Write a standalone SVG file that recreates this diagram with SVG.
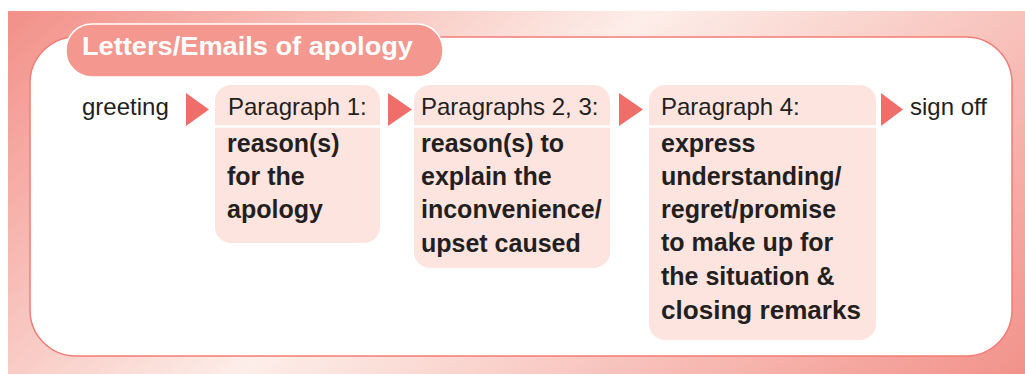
<svg xmlns="http://www.w3.org/2000/svg" width="1025" height="374" viewBox="0 0 1025 374">
<defs>
<linearGradient id="bg" gradientUnits="userSpaceOnUse" x1="163" y1="-126" x2="790" y2="582">
<stop offset="0" stop-color="#f29088"/>
<stop offset="0.45" stop-color="#fdeee9"/>
<stop offset="1" stop-color="#f2928a"/>
</linearGradient>
<style>
.reg{font-family:"Liberation Sans",Arial,sans-serif;font-size:24px;fill:#231f20}
.bold{font-family:"Liberation Sans",Arial,sans-serif;font-size:25px;font-weight:bold;fill:#231f20}
.title{font-family:"Liberation Sans",Arial,sans-serif;font-size:25px;font-weight:bold;fill:#ffffff}
.box{fill:#fde4df}
.sep{stroke:#ffffff;stroke-width:2.5}
.arrow{fill:#f06e69}
</style>
</defs>
<rect x="8" y="11" width="1017" height="363" fill="url(#bg)"/>
<rect id="frame" x="30" y="37" width="982" height="319" rx="46" ry="46" fill="#ffffff" stroke="#f27c76" stroke-width="1.5"/>
<g id="title">
<rect x="66" y="24" width="377" height="53" rx="26" ry="26" fill="#f4978e" stroke="#ffffff" stroke-width="1.5"/>
<text class="title" x="82" y="55" textLength="331" lengthAdjust="spacingAndGlyphs">Letters/Emails of apology</text>
</g>
<g id="greeting"><text class="reg" x="82" y="115">greeting</text></g>
<g id="para1">
<rect class="box" x="215" y="85" width="165" height="158" rx="16" ry="16"/>
<line class="sep" x1="215" y1="126.5" x2="380" y2="126.5"/>
<text class="reg" x="228" y="115">Paragraph 1:</text>
<text class="bold" x="227" y="152">reason(s)</text>
<text class="bold" x="227" y="185">for the</text>
<text class="bold" x="227" y="218">apology</text>
</g>
<g id="para23">
<rect class="box" x="414" y="85" width="196" height="183" rx="16" ry="16"/>
<line class="sep" x1="414" y1="126.5" x2="610" y2="126.5"/>
<text class="reg" x="421" y="115">Paragraphs 2, 3:</text>
<text class="bold" x="421" y="152">reason(s) to</text>
<text class="bold" x="421" y="185">explain the</text>
<text class="bold" x="421" y="218">inconvenience/</text>
<text class="bold" x="421" y="252">upset caused</text>
</g>
<g id="para4">
<rect class="box" x="649" y="85" width="227" height="255" rx="16" ry="16"/>
<line class="sep" x1="649" y1="126.5" x2="876" y2="126.5"/>
<text class="reg" x="661" y="115">Paragraph 4:</text>
<text class="bold" x="661" y="152">express</text>
<text class="bold" x="661" y="185">understanding/</text>
<text class="bold" x="661" y="218">regret/promise</text>
<text class="bold" x="661" y="251">to make up for</text>
<text class="bold" x="661" y="285">the situation &amp;</text>
<text class="bold" x="661" y="319" textLength="200" lengthAdjust="spacingAndGlyphs">closing remarks</text>
</g>
<g id="signoff"><text class="reg" x="910" y="115">sign off</text></g>
<g id="connectors">
<polygon class="arrow" points="186,93 209,109.5 186,126"/>
<polygon class="arrow" points="388,93 412,109.5 388,126"/>
<polygon class="arrow" points="619,93 643,109.5 619,126"/>
<polygon class="arrow" points="881,93 903,109.5 881,126"/>
</g>
</svg>
